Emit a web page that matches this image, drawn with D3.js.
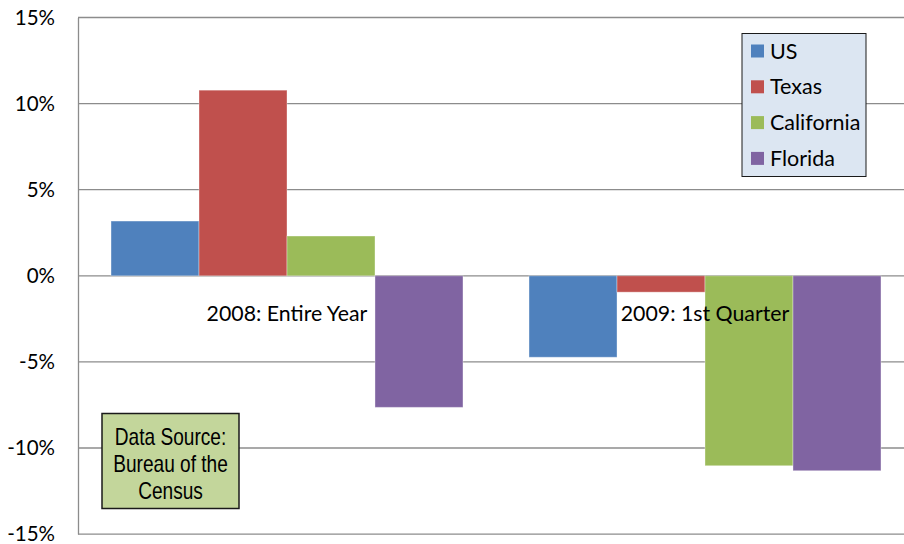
<!DOCTYPE html>
<html>
<head>
<meta charset="utf-8">
<script src="https://cdnjs.cloudflare.com/ajax/libs/d3/7.8.5/d3.min.js"></script>
<style>
  html, body { margin: 0; padding: 0; background: #fff; }
  svg { display: block; }
</style>
</head>
<body>
<svg id="chart" width="904" height="544"></svg>
<script>
// Percent change by period and region
const periods = ["2008: Entire Year", "2009: 1st Quarter"];
const regions = ["US", "Texas", "California", "Florida"];
const usValues = [3.18, -4.73];
const texasValues = [10.78, -0.95];
const californiaValues = [2.31, -11.03];
const floridaValues = [-7.64, -11.32];
const yTicks = [15, 10, 5, 0, -5, -10, -15];
const sourceLines = ["Data Source:", "Bureau of the", "Census"];

const colors = ["#4f81bd", "#c0504d", "#9bbb59", "#8064a2"];
const seriesValues = [usValues, texasValues, californiaValues, floridaValues];

const rows = periods.map((p, i) => ({
  period: p,
  values: regions.map((r, j) => ({ region: r, value: seriesValues[j][i], color: colors[j] }))
}));

const svg = d3.select("#chart");
const margin = { left: 78, top: 17.5, right: -10, bottom: 10 };
const plotW = 904 - margin.left - margin.right;   // extends past the right edge
const plotH = 516.6;

const x0 = d3.scaleBand().domain(periods)
  .range([margin.left, margin.left + plotW])
  .paddingInner(0.158).paddingOuter(0.079);
const x1 = d3.scaleBand().domain(regions).range([0, x0.bandwidth()]).padding(0);
const y = d3.scaleLinear().domain([-15, 15]).range([margin.top + plotH, margin.top]);

const labelFont = "Lato, 'Open Sans', sans-serif";

// gridlines
svg.append("g")
  .selectAll("line").data(yTicks).join("line")
  .attr("x1", margin.left).attr("x2", 904)
  .attr("y1", d => y(d)).attr("y2", d => y(d))
  .attr("stroke", "#8c8c8c").attr("stroke-width", 1.3);

// y axis
const yAxis = d3.axisLeft(y).tickValues(yTicks).tickSize(0).tickPadding(23)
  .tickFormat(d => d + "%");
const gy = svg.append("g").attr("transform", `translate(${margin.left},0)`).call(yAxis);
gy.select(".domain").attr("stroke", "#8c8c8c").attr("stroke-width", 1.3);
gy.selectAll("text").attr("font-family", labelFont).attr("font-size", 20.5).attr("fill", "#000");

// bars
const groups = svg.append("g").selectAll("g").data(rows).join("g")
  .attr("transform", d => `translate(${x0(d.period)},0)`);
groups.selectAll("rect").data(d => d.values).join("rect")
  .attr("x", d => x1(d.region))
  .attr("width", x1.bandwidth())
  .attr("y", d => y(Math.max(0, d.value)))
  .attr("height", d => Math.abs(y(d.value) - y(0)))
  .attr("fill", d => d.color)
  .attr("stroke", "rgba(255,255,255,0.35)")
  .attr("stroke-width", 1);

// period labels next to the zero line
svg.append("g").selectAll("text").data(periods).join("text")
  .attr("x", d => x0(d) + x0.bandwidth() / 2)
  .attr("y", y(0) + 45)
  .attr("text-anchor", "middle")
  .attr("font-family", labelFont).attr("font-size", 21.3).attr("fill", "#000")
  .text(d => d);

// legend
const lg = svg.append("g").attr("transform", "translate(742,33.5)");
lg.append("rect").attr("width", 124).attr("height", 143)
  .attr("fill", "#dce6f2").attr("stroke", "#1a1a1a").attr("stroke-width", 1);
const items = lg.selectAll("g.item").data(regions).join("g").attr("class", "item")
  .attr("transform", (d, i) => `translate(9,${17.5 + i * 35.8})`);
items.append("rect").attr("x", 0).attr("y", -6.5).attr("width", 13).attr("height", 13)
  .attr("fill", (d, i) => colors[i]);
items.append("text").attr("x", 19).attr("y", 0).attr("dy", "0.35em")
  .attr("font-family", labelFont).attr("font-size", 21.5).attr("fill", "#000")
  .text(d => d);

// data source note (condensed sans)
const note = svg.append("g").attr("transform", "translate(102,413.5)");
note.append("rect").attr("width", 137).attr("height", 95)
  .attr("fill", "#c3d69b").attr("stroke", "#1a1a1a").attr("stroke-width", 1.5);
note.append("g").attr("transform", "translate(68.5,0) scale(0.83,1)")
  .selectAll("text").data(sourceLines).join("text")
  .attr("x", 0).attr("y", (d, i) => 31.5 + i * 27)
  .attr("text-anchor", "middle")
  .attr("font-family", "'Liberation Sans', Arial, sans-serif")
  .attr("font-size", 23).attr("fill", "#000")
  .text(d => d);
</script>
</body>
</html>
